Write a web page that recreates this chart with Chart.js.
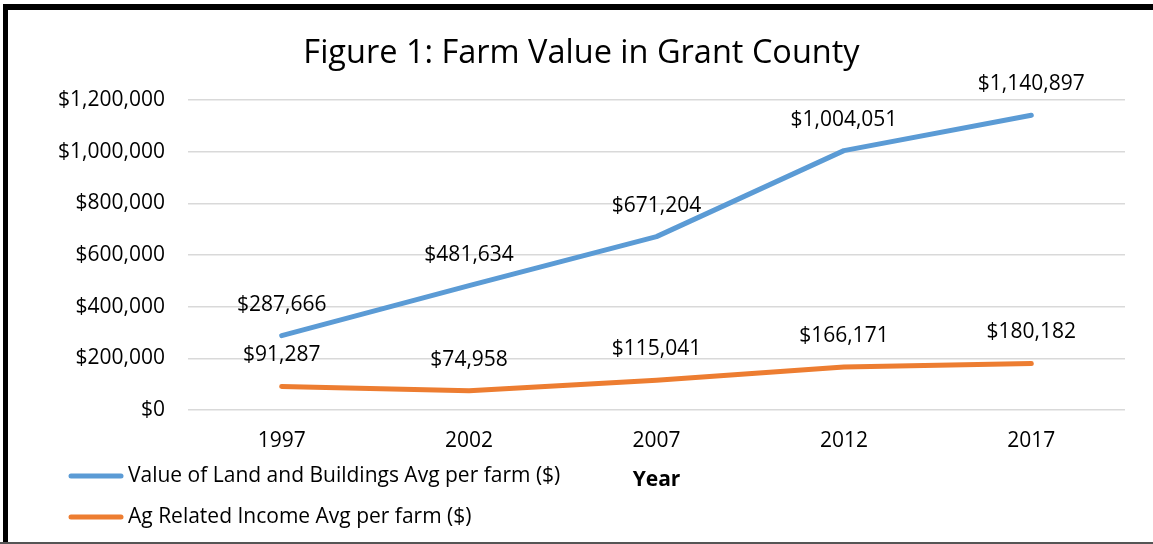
<!DOCTYPE html>
<html>
<head>
<meta charset="utf-8">
<script src="https://cdn.jsdelivr.net/npm/chart.js@4"></script>
<style>
html,body{margin:0;padding:0;background:#fff;}
#wrap{position:relative;width:1153px;height:544px;}
</style>
</head>
<body>
<div id="wrap"><canvas id="c" width="1153" height="544"></canvas></div>
<script>
const years = ['1997', '2002', '2007', '2012', '2017'];
const landValue = [287666, 481634, 671204, 1004051, 1140897];
const agIncome = [91287, 74958, 115041, 166171, 180182];
const seriesNames = ['Value of Land and Buildings Avg per farm ($)', 'Ag Related Income Avg per farm ($)'];
const yTicks = [0, 200000, 400000, 600000, 800000, 1000000, 1200000];

const FONT = '"Open Sans", "Noto Sans", sans-serif';
const money = v => '$' + Number(v).toLocaleString('en-US');

const framePlugin = {
  id: 'frame',
  beforeDraw(chart) {
    const ctx = chart.ctx;
    ctx.save();
    ctx.fillStyle = '#fff';
    ctx.fillRect(0, 0, chart.width, chart.height);
    ctx.fillStyle = '#000';
    ctx.fillRect(3, 4, chart.width - 3, 6);
    ctx.fillRect(3, 4, 5, chart.height - 4);
    ctx.fillStyle = '#555';
    ctx.fillRect(0, chart.height - 2, chart.width, 2);
    ctx.restore();
  }
};

const labelPlugin = {
  id: 'valueLabels',
  afterDatasetsDraw(chart) {
    const ctx = chart.ctx;
    ctx.save();
    ctx.font = '21px ' + FONT;
    ctx.fillStyle = '#000';
    ctx.textAlign = 'center';
    ctx.textBaseline = 'middle';
    chart.data.datasets.forEach((ds, i) => {
      chart.getDatasetMeta(i).data.forEach((pt, j) => {
        ctx.fillText(money(ds.data[j]), pt.x, pt.y - 31);
      });
    });
    ctx.restore();
  }
};

const legendPlugin = {
  id: 'customLegend',
  afterDraw(chart) {
    const ctx = chart.ctx;
    ctx.save();
    ctx.font = '21px ' + FONT;
    ctx.textAlign = 'left';
    ctx.textBaseline = 'middle';
    chart.data.datasets.forEach((ds, i) => {
      const y = 476 + i * 41;
      ctx.strokeStyle = ds.borderColor;
      ctx.lineWidth = 5;
      ctx.lineCap = 'round';
      ctx.beginPath();
      ctx.moveTo(71, y);
      ctx.lineTo(121, y);
      ctx.stroke();
      ctx.fillStyle = '#000';
      ctx.fillText(ds.label, 128, y);
    });
    ctx.restore();
  }
};

new Chart(document.getElementById('c'), {
  type: 'line',
  data: {
    labels: years,
    datasets: [
      { label: seriesNames[0], data: landValue, borderColor: '#5B9BD5', backgroundColor: '#5B9BD5',
        borderWidth: 5, pointRadius: 0, tension: 0, borderCapStyle: 'round', borderJoinStyle: 'round' },
      { label: seriesNames[1], data: agIncome, borderColor: '#ED7D31', backgroundColor: '#ED7D31',
        borderWidth: 5, pointRadius: 0, tension: 0, borderCapStyle: 'round', borderJoinStyle: 'round' }
    ]
  },
  options: {
    responsive: false,
    animation: false,
    events: [],
    layout: { padding: { top: 33.8, left: 38, right: 28, bottom: 51.4 } },
    plugins: {
      legend: { display: false },
      tooltip: { enabled: false },
      title: {
        display: true,
        text: 'Figure 1: Farm Value in Grant County',
        color: '#000',
        font: { family: FONT, size: 32.5, weight: 'normal', lineHeight: 1.2 },
        padding: { top: 0, bottom: 27.2 }
      }
    },
    scales: {
      x: {
        offset: true,
        grid: { display: false, drawTicks: false },
        border: { display: false },
        ticks: { color: '#000', font: { family: FONT, size: 21 }, padding: 18, maxRotation: 0 },
        title: { display: true, text: 'Year', color: '#000', font: { family: FONT, size: 21, weight: 'bold', lineHeight: 1.2 }, padding: 0 },
        afterFit(scale) { scale.height = 82.6; }
      },
      y: {
        min: 0, max: 1200000,
        afterBuildTicks(scale) { scale.ticks = yTicks.map(v => ({ value: v })); },
        grid: { color: '#d9d9d9', lineWidth: 1.5, drawTicks: false },
        border: { display: false },
        ticks: { color: '#000', font: { family: FONT, size: 21 }, padding: 23, callback: v => money(v) },
        afterFit(scale) { scale.width = 150; }
      }
    }
  },
  plugins: [framePlugin, labelPlugin, legendPlugin]
});
</script>
</body>
</html>
